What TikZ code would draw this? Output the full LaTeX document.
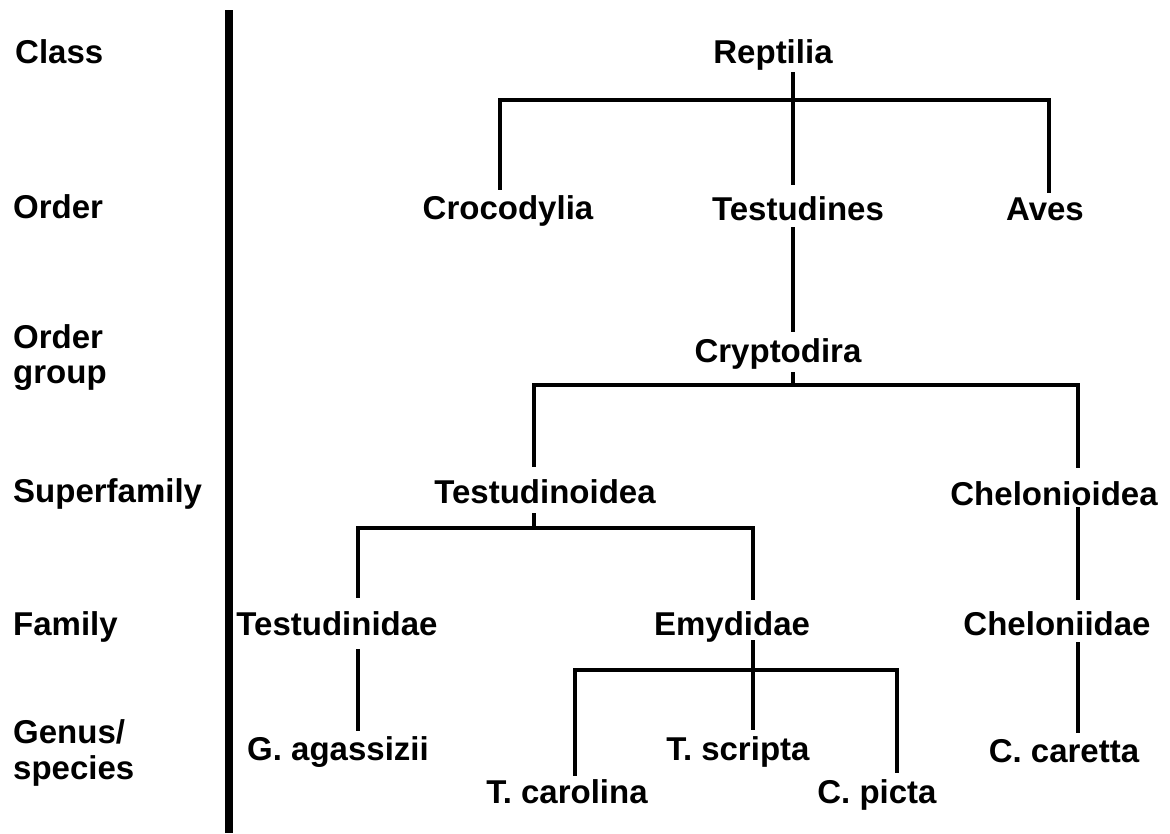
\documentclass[tikz,border=0pt]{standalone}
\usepackage{fontspec}
\setmainfont{Liberation Sans}

\begin{document}
\begin{tikzpicture}[x=1pt,y=-1pt,
  taxon/.style={font=\bfseries\fontsize{33}{36}\selectfont, inner sep=0pt, anchor=base},
  rank/.style={taxon, anchor=base west},
  link/.style={line width=4pt}]
  \useasboundingbox (0,0) rectangle (1170,833);

  % Rank labels
  \node[rank] (cls)  at (15,63)  {Class};
  \node[rank] (ord)  at (13,218) {Order};
  \node[rank] (ogA)  at (13,348) {Order};
  \node[rank] (ogB)  at (13,383) {group};
  \node[rank] (sup)  at (13,502) {Superfamily};
  \node[rank] (fam)  at (13,635) {Family};
  \node[rank] (genA) at (13,743) {Genus/};
  \node[rank] (genB) at (13,779) {species};

  % Separator
  \draw[line width=8pt] (229,10) -- (229,833);

  % Taxa
  \node[taxon] (rep) at (773,63)  {Reptilia};
  \node[taxon] (cro) at (508,219) {Crocodylia};
  \node[taxon] (tes) at (798,220) {Testudines};
  \node[taxon] (ave) at (1045,220) {Aves};
  \node[taxon] (cry) at (778,362) {Cryptodira};
  \node[taxon] (tsd) at (545,503) {Testudinoidea};
  \node[taxon] (chd) at (1054,505) {Chelonioidea};
  \node[taxon] (tdn) at (337,635) {Testudinidae};
  \node[taxon] (emy) at (732,635) {Emydidae};
  \node[taxon] (chn) at (1057,635) {Cheloniidae};
  \node[taxon] (gag) at (338,760) {G. agassizii};
  \node[taxon] (tsc) at (738,760) {T. scripta};
  \node[taxon] (cca) at (1064,762) {C. caretta};
  \node[taxon] (tca) at (567,803) {T. carolina};
  \node[taxon] (cpi) at (877,803) {C. picta};

  % Junctions
  \coordinate (jRep) at (793,100);
  \coordinate (jCro) at (500,100);
  \coordinate (jAve) at (1049,100);
  \coordinate (jCry) at (793,385);
  \coordinate (jTsd) at (534,385);
  \coordinate (jChd) at (1078,385);
  \coordinate (jTds) at (534,528);
  \coordinate (jTdn) at (358,528);
  \coordinate (jEmy) at (753,528);
  \coordinate (jSpp) at (753,670);
  \coordinate (jTca) at (575,670);
  \coordinate (jCpi) at (897,670);

  % Class to order
  \draw[link] ([yshift=-9pt]rep.base -| jRep) -- ([yshift=11pt]tes.north -| jRep);
  \draw[link] ([yshift=5pt]cro.north -| jCro) -- (jCro) -- (jAve) -- ([yshift=4pt]ave.north -| jAve);

  % Order to superfamily
  \draw[link] ([yshift=-7pt]tes.base -| jRep) -- ([yshift=6pt]cry.north -| jRep);
  \draw[link] ([yshift=-10pt]cry.base -| jCry) -- (jCry);
  \draw[link] ([yshift=12pt]tsd.north -| jTsd) -- (jTsd) -- (jChd) -- ([yshift=13pt]chd.north -| jChd);

  % Superfamily to family
  \draw[link] ([yshift=-10pt]tsd.base -| jTds) -- (jTds);
  \draw[link] ([yshift=13pt]tdn.north -| jTdn) -- (jTdn) -- (jEmy) -- ([yshift=11pt]emy.north -| jEmy);
  \draw[link] ([yshift=-2pt]chd.base -| jChd) -- ([yshift=11pt]chn.north -| jChd);

  % Family to species
  \draw[link] ([yshift=-14pt]tdn.base -| jTdn) -- ([yshift=5pt]gag.north -| jTdn);
  \draw[link] ([yshift=-5pt]emy.base -| jSpp) -- ([yshift=6pt]tsc.north -| jSpp);
  \draw[link] ([yshift=3pt]tca.north -| jTca) -- (jTca) -- (jCpi) -- ([yshift=6pt]cpi.north -| jCpi);
  \draw[link] ([yshift=-7pt]chn.base -| jChd) -- ([yshift=6pt]cca.north -| jChd);
\end{tikzpicture}
\end{document}
